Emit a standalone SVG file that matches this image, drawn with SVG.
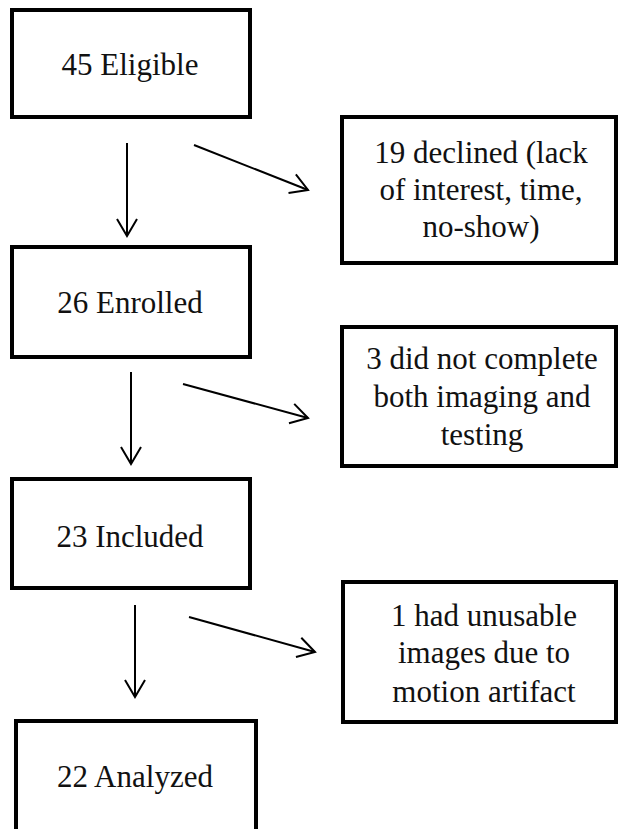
<svg xmlns="http://www.w3.org/2000/svg" width="618" height="829" viewBox="0 0 618 829">
<style>
.box{fill:#fff;stroke:#000;stroke-width:4}
.t{font-family:"Liberation Serif","Times New Roman",serif;font-size:31px;fill:#111;text-anchor:middle}
.c{stroke:#000;stroke-width:2;fill:none}
</style>
<defs>
<marker id="ah" markerUnits="userSpaceOnUse" markerWidth="40" markerHeight="40" viewBox="-20 -20 40 40" refX="0" refY="0" orient="auto">
<path d="M-17,-10 L0,0 L-17,10" fill="none" stroke="#000" stroke-width="2"/>
</marker>
</defs>
<rect width="618" height="829" fill="#fff"/>
<g id="eligible"><rect class="box" x="12" y="10" width="238" height="107"/><text class="t" x="130" y="75">45 Eligible</text></g>
<g id="declined"><rect class="box" x="342" y="117" width="274" height="146"/><text class="t" x="481" y="163">19 declined (lack</text><text class="t" x="481" y="200">of interest, time,</text><text class="t" x="481" y="237">no-show)</text></g>
<g id="enrolled"><rect class="box" x="12" y="247" width="238" height="110"/><text class="t" x="130" y="313">26 Enrolled</text></g>
<g id="notcomplete"><rect class="box" x="342" y="327" width="274" height="139"/><text class="t" x="482" y="369">3 did not complete</text><text class="t" x="482" y="407">both imaging and</text><text class="t" x="482" y="445">testing</text></g>
<g id="included"><rect class="box" x="12" y="479" width="238" height="109"/><text class="t" x="130" y="547">23 Included</text></g>
<g id="unusable"><rect class="box" x="343" y="582" width="273" height="140"/><text class="t" x="484" y="626">1 had unusable</text><text class="t" x="484" y="663">images due to</text><text class="t" x="484" y="702">motion artifact</text></g>
<g id="analyzed"><rect class="box" x="16" y="721" width="240" height="130"/><text class="t" x="135" y="787">22 Analyzed</text></g>
<g id="connectors">
<line class="c" x1="127" y1="143" x2="127" y2="236" marker-end="url(#ah)"/>
<line class="c" x1="194" y1="145" x2="308" y2="190" marker-end="url(#ah)"/>
<line class="c" x1="131" y1="372" x2="131" y2="464" marker-end="url(#ah)"/>
<line class="c" x1="183" y1="384" x2="308" y2="418" marker-end="url(#ah)"/>
<line class="c" x1="135" y1="605" x2="135" y2="697" marker-end="url(#ah)"/>
<line class="c" x1="189" y1="617" x2="315" y2="652" marker-end="url(#ah)"/>
</g>
</svg>
